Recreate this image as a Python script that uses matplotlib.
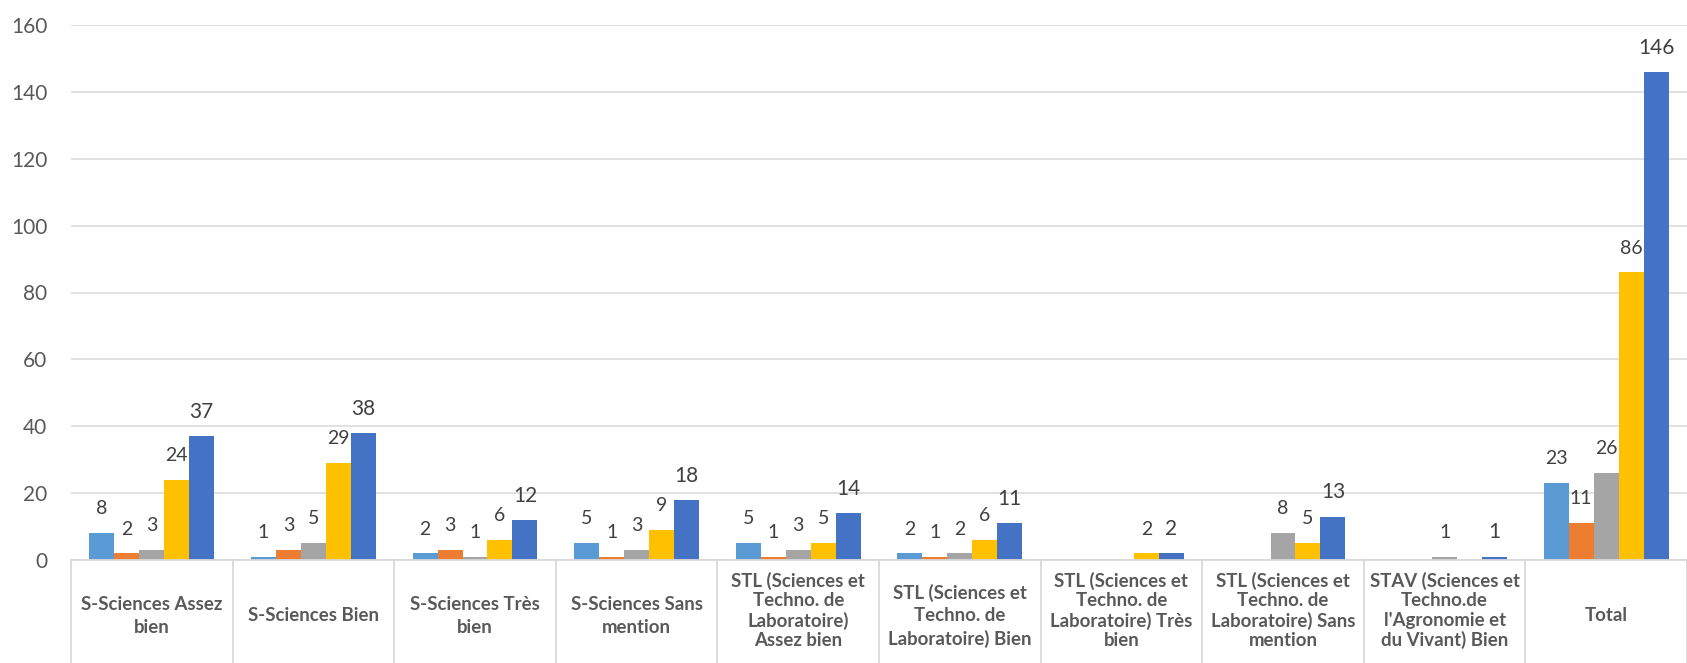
import matplotlib
matplotlib.use("Agg")
import matplotlib.pyplot as plt

plt.rcParams["font.family"] = ["Lato", "DejaVu Sans"]

categories = [
    "S-Sciences Assez\nbien",
    "S-Sciences Bien",
    "S-Sciences Très\nbien",
    "S-Sciences Sans\nmention",
    "STL (Sciences et\nTechno. de\nLaboratoire)\nAssez bien",
    "STL (Sciences et\nTechno. de\nLaboratoire) Bien",
    "STL (Sciences et\nTechno. de\nLaboratoire) Très\nbien",
    "STL (Sciences et\nTechno. de\nLaboratoire) Sans\nmention",
    "STAV (Sciences et\nTechno.de\nl'Agronomie et\ndu Vivant) Bien",
    "Total",
]

# five series, None = no bar
serie_1 = [8, 1, 2, 5, 5, 2, None, None, None, 23]
serie_2 = [2, 3, 3, 1, 1, 1, None, None, None, 11]
serie_3 = [3, 5, 1, 3, 3, 2, None, 8, 1, 26]
serie_4 = [24, 29, 6, 9, 5, 6, 2, 5, None, 86]
serie_5 = [37, 38, 12, 18, 14, 11, 2, 13, 1, 146]

series = [serie_1, serie_2, serie_3, serie_4, serie_5]
colors = ["#5B9BD5", "#ED7D31", "#A5A5A5", "#FFC000", "#4472C4"]
yticks = [0, 20, 40, 60, 80, 100, 120, 140, 160]

W, H = 1687, 663
fig = plt.figure(figsize=(W / 100, H / 100), dpi=100)
ax = fig.add_axes([71 / W, 1 - 560 / H, 1 - 71 / W, (560 - 25) / H])

n = len(series)
bw = 0.773 / n
for si, (vals, col) in enumerate(zip(series, colors)):
    off = (si - (n - 1) / 2) * bw
    for ci, v in enumerate(vals):
        if v is None:
            continue
        x = ci + off
        ax.bar(x, v, width=bw, color=col, zorder=3)
        ax.annotate(str(v), xy=(x, v), xytext=(0, 17.5), textcoords="offset points",
                    ha="center", va="center", color="#404040",
                    fontsize=15 if si == n - 1 else 14)

ax.set_xlim(-0.5, len(categories) - 0.5)
ax.set_ylim(0, 160)
ax.set_yticks(yticks)
ax.set_xticks([])
ax.tick_params(axis="y", length=0, pad=17, labelsize=15, labelcolor="#595959")
ax.grid(axis="y", color="#D9D9D9", linewidth=1.1, zorder=0)
for s in ("top", "right", "left"):
    ax.spines[s].set_visible(False)
ax.spines["bottom"].set_color("#D9D9D9")
ax.spines["bottom"].set_linewidth(1.3)
ax.spines["bottom"].set_zorder(4)

# category "table" below the axis
trans = ax.get_xaxis_transform()
for k in range(len(categories) + 1):
    ax.plot([k - 0.5, k - 0.5], [0, -0.3], transform=trans, color="#D9D9D9",
            linewidth=1.3, clip_on=False)

for ci, lab in enumerate(categories):
    nl = lab.count("\n") + 1
    if nl >= 4:
        dy, ls = -36.4, 1.15
    else:
        dy, ls = -40.3, 1.4
    ax.annotate(lab, xy=(ci, 0), xycoords=trans, xytext=(0, dy),
                textcoords="offset points", ha="center", va="center",
                multialignment="center", fontsize=13.4, fontweight="bold",
                color="#595959", linespacing=ls)

fig.savefig("out.png", dpi=100)
